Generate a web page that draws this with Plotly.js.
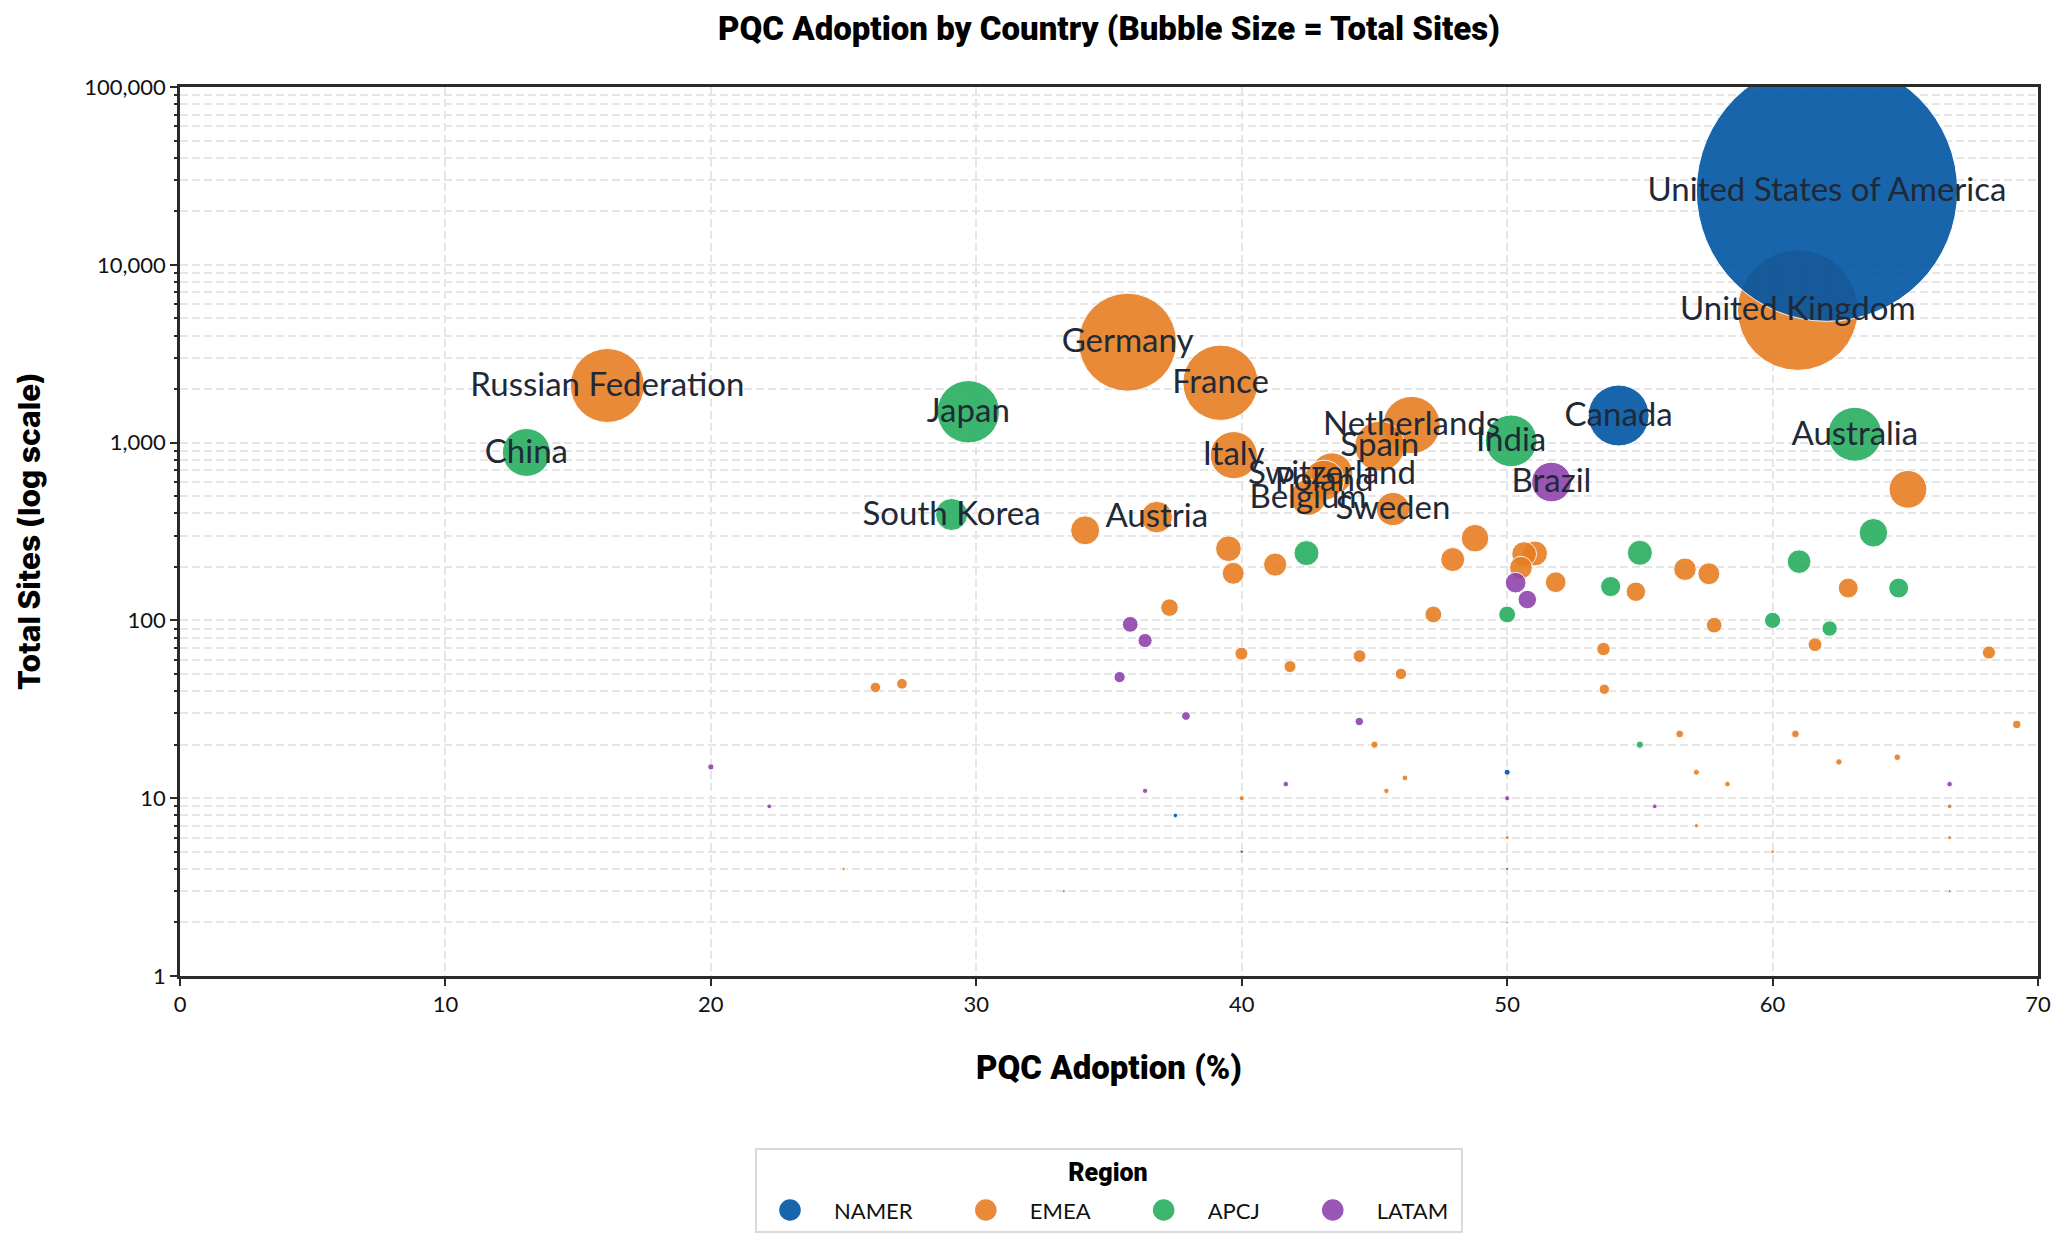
<!DOCTYPE html>
<html><head><meta charset="utf-8">
<script src="https://cdn.plot.ly/plotly-3.0.1.min.js"></script>
<style>html,body{margin:0;padding:0;background:#fff}</style></head>
<body><div id="chart" style="width:2067px;height:1247px"></div>
<script>
const regions = ["NAMER","EMEA","APCJ","LATAM"];
const namerNames = ["United States of America","Canada","",""];
const namerAdoption = [62.05,54.2,50.0,37.5];
const namerSites = [26100,1420,14,8];
const emeaNames = ["United Kingdom","Germany","France","Russian Federation","Netherlands","Spain","Italy","Switzerland","Poland","","Belgium","Sweden","Austria"];
const emeaAdoption = [60.95,35.7,39.2,16.1,46.4,45.2,39.7,43.4,43.1,65.1,42.5,45.7,36.8,34.1,48.79,39.5,51.05,50.64,47.95,41.26,50.52,56.7,39.68,57.6,51.83,62.85,54.85,37.28,47.22,57.8,61.6,53.63,68.15,39.99,44.44,41.82,46.0,27.2,26.2,53.66,69.2,56.5,60.86,45.0,64.7,62.5,57.13,46.15,58.3,45.45,40.0,66.67,57.13,50.0,66.67,60.0,25.0];
const emeaSites = [5560,3670,2170,2095,1255,955,850,668,614,546,492,423,381,321,290,253,238,236,220,206,198,194,184,183,164,152,145,118,108,94,73,69,66,65,63,55,50,44,42,41,26,23,23,20,17,16,14,13,12,11,10,9,7,6,6,5,4];
const apcjNames = ["Japan","Australia","India","China","South Korea"];
const apcjAdoption = [29.7,63.1,50.15,13.05,29.07,63.8,55.0,42.44,61.0,53.9,64.75,50.0,60.0,62.15,55.0];
const apcjSites = [1490,1114,1023,880,394,311,240,239,214,155,152,108,100,90,20];
const latamNames = ["Brazil"];
const latamAdoption = [51.67,50.32,50.76,35.8,36.36,35.4,37.9,44.43,20.0,41.66,66.67,36.36,50.0,22.2,55.56,40.0,50.0,33.3,66.67,50.0];
const latamSites = [600,163,131,95,77,48,29,27,15,12,12,11,10,9,9,5,4,3,3,2];
const regionColors = ["#0055A4","#E67E22","#27AE60","#8E44AD"];
const chartTitle = "PQC Adoption by Country (Bubble Size = Total Sites)";
const xTitle = "PQC Adoption (%)";
const yTitle = "Total Sites (log scale)";
const legendTitle = "Region";

const SZ = 0.765;
function bubble(name, i, x, y, rank) {
  return {type:"scatter", mode:"markers", name, x, y, legendrank:rank,
    marker:{size:y, sizemode:"area", sizeref:SZ, color:regionColors[i], opacity:0.9, line:{color:"#ffffff", width:1}},
    hoverinfo:"x+y+name"};
}
function labels(names, x, y){
  const idx = names.map((n,k)=>n?k:-1).filter(k=>k>=0);
  return {type:"scatter", mode:"text", showlegend:false, hoverinfo:"skip",
    x:idx.map(k=>x[k]), y:idx.map(k=>y[k]), text:idx.map(k=>names[k]), textposition:"middle center",
    textfont:{family:"Lato, sans-serif", size:33, color:"#1f2937"}};
}
const data = [
  bubble(regions[1],1,emeaAdoption,emeaSites,2),
  bubble(regions[2],2,apcjAdoption,apcjSites,3),
  bubble(regions[3],3,latamAdoption,latamSites,4),
  bubble(regions[0],0,namerAdoption,namerSites,1),
  labels(emeaNames,emeaAdoption,emeaSites),
  labels(apcjNames,apcjAdoption,apcjSites),
  labels(latamNames,latamAdoption,latamSites),
  labels(namerNames,namerAdoption,namerSites)
];
const tickFont = {family:"Lato, sans-serif", size:22, color:"#111111"};
const axisLine = {showline:true, linecolor:"#2a2a2a", linewidth:2.5, mirror:true, ticks:"outside", ticklen:7, tickwidth:2, tickcolor:"#2a2a2a", zeroline:false};
const headFont = {family:"Roboto, sans-serif", size:33, weight:900, color:"#000"};
const W = 1858, H = 889;
const px = X => (X-180)/W, py = Y => 1-(Y-87)/H;
const layout = {
  width:2067, height:1247, paper_bgcolor:"#fff", plot_bgcolor:"#fff",
  margin:{l:180,r:29,t:87,b:271,autoexpand:false},
  title:{text:chartTitle, x:0.5365, xref:"container", xanchor:"center", y:0.977, yanchor:"middle", font:headFont},
  xaxis:Object.assign({}, axisLine, {range:[0,70], dtick:10, tickfont:tickFont, gridcolor:"#e6e6e6", griddash:"8px,4px", gridwidth:1.5,
    title:{text:xTitle, standoff:40, font:headFont}}),
  yaxis:Object.assign({}, axisLine, {type:"log", range:[0,5], tickvals:[1,10,100,1000,10000,100000], ticktext:["1","10","100","1,000","10,000","100,000"], tickfont:tickFont, gridcolor:"#e6e6e6", griddash:"8px,4px", gridwidth:2,
    minor:{dtick:"D1", showgrid:true, gridcolor:"#e6e6e6", griddash:"8px,4px", gridwidth:2, ticks:"outside", ticklen:3, tickwidth:2, tickcolor:"#2a2a2a"},
    title:{text:yTitle, standoff:35, font:{family:"Inter, sans-serif", size:30, weight:800, color:"#000"}}}),
  showlegend:true,
  legend:{orientation:"h", x:0.5, xanchor:"center", y:py(1149), yanchor:"top", bgcolor:"rgba(0,0,0,0)", borderwidth:0, itemwidth:78,
    font:{family:"Lato, sans-serif", size:22, color:"#111"}, itemsizing:"trace", entrywidth:100,
    title:{text:legendTitle, side:"top center", font:{family:"Roboto, sans-serif", size:25, weight:900, color:"#000"}}},
  shapes:[{type:"rect", xref:"paper", yref:"paper", x0:px(756), x1:px(1462), y0:py(1149), y1:py(1232), line:{color:"#d5dce0", width:2}, fillcolor:"#fff", layer:"below"}]
};
const legendLayout = {firstMarker:790, itemY:1210, titleX:1108, titleY:1172, textOffset:44, gapAfterText:73, markerPx:23, baseMarkerPx:16, labelNudge:2};
function shiftAttr(el, attr, d){ el.setAttribute(attr, parseFloat(el.getAttribute(attr)||0)+d); }
function tuneLegend(gd){
  const L = legendLayout, leg = gd.querySelector(".legend");
  const sb = leg.querySelector(".scrollbox"); if(sb) sb.removeAttribute("clip-path");
  const host = gd.getBoundingClientRect();
  let markerX = L.firstMarker;
  leg.querySelectorAll(".traces").forEach(t=>{
    const m = t.querySelector("path.scatterpts"), txt = t.querySelector("text.legendtext");
    if(!m || !txt) return;
    m.setAttribute("transform", (m.getAttribute("transform")||"")+" scale("+(L.markerPx/L.baseMarkerPx)+")");
    const r = m.getBoundingClientRect();
    const dx = markerX-(r.left+r.right)/2+host.left, dy = L.itemY-(r.top+r.bottom)/2+host.top;
    const tr = (t.getAttribute("transform")||"").match(/translate\(\s*([-\d.]+)[ ,]+([-\d.]+)\s*\)/) || [0,0,0];
    t.setAttribute("transform","translate("+(parseFloat(tr[1])+dx)+","+(parseFloat(tr[2])+dy)+")");
    const rt = txt.getBoundingClientRect();
    const tdx = markerX+L.textOffset-(rt.left-host.left);
    shiftAttr(txt,"x",tdx);
    txt.querySelectorAll("tspan[x]").forEach(s=>shiftAttr(s,"x",tdx));
    const rt2 = txt.getBoundingClientRect();
    const tdy = L.itemY-((rt2.top+rt2.bottom)/2-host.top);
    shiftAttr(txt,"y",tdy);
    markerX = rt2.right-host.left+L.gapAfterText;
  });
  const title = leg.querySelector(".legendtitletext");
  if(title){
    const r = title.getBoundingClientRect();
    shiftAttr(title,"x",L.titleX-((r.left+r.right)/2-host.left));
    shiftAttr(title,"y",L.titleY-((r.top+r.bottom)/2-host.top));
  }
  gd.querySelectorAll(".textpoint text").forEach(t=>shiftAttr(t,"y",L.labelNudge));
}
Plotly.newPlot("chart", data, layout, {displayModeBar:false, responsive:false}).then(tuneLegend);
</script></body></html>
